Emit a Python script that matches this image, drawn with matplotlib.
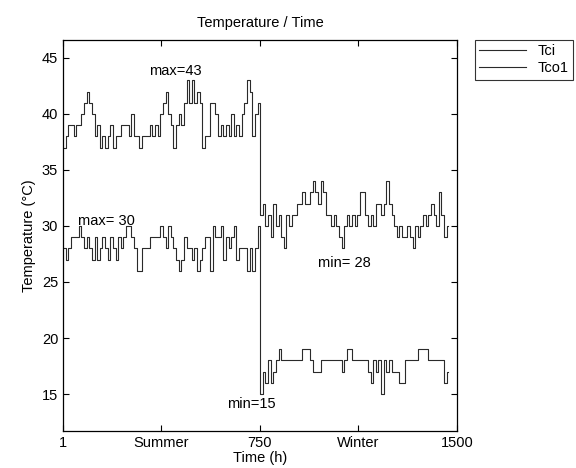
import numpy as np
import matplotlib
matplotlib.use("Agg")
import matplotlib.pyplot as plt

plt.rcParams['font.family'] = ['Liberation Sans', 'DejaVu Sans']

# --- datos (una muestra cada 10 h) ---
step_h = 10
start_summer = 1
start_winter = 751

tco1_summer = [37, 38, 39, 39, 38, 39, 39, 40, 41, 42,
               41, 40, 38, 39, 37, 38, 37, 38, 39, 37,
               38, 38, 39, 39, 39, 38, 40, 38, 38, 37,
               38, 38, 38, 39, 38, 39, 38, 40, 41, 42,
               40, 39, 37, 39, 40, 39, 41, 43, 41, 43,
               41, 42, 41, 37, 38, 38, 41, 41, 40, 38,
               39, 38, 39, 38, 40, 38, 39, 38, 40, 41,
               43, 42, 38, 40, 41]
tco1_winter = [31, 32, 30, 31, 29, 32, 30, 31, 29, 28,
               31, 30, 31, 31, 32, 32, 33, 32, 32, 33,
               34, 33, 32, 34, 33, 31, 31, 30, 31, 30,
               29, 28, 30, 31, 30, 31, 30, 31, 33, 33,
               31, 30, 31, 30, 32, 32, 31, 32, 34, 32,
               31, 30, 29, 30, 29, 29, 30, 29, 28, 30,
               29, 30, 31, 30, 31, 32, 31, 30, 33, 31,
               29, 30]

tci_summer = [28, 27, 28, 29, 29, 29, 30, 29, 28, 29,
              28, 27, 29, 27, 28, 29, 28, 27, 29, 28,
              27, 29, 28, 29, 30, 30, 29, 28, 26, 26,
              28, 28, 28, 29, 29, 29, 29, 30, 29, 28,
              30, 29, 28, 27, 26, 27, 29, 28, 28, 27,
              28, 26, 27, 28, 29, 29, 26, 30, 29, 29,
              30, 27, 29, 28, 29, 30, 27, 28, 28, 28,
              26, 28, 26, 28, 30]
tci_winter = [15, 17, 16, 18, 16, 17, 18, 19, 18, 18,
              18, 18, 18, 18, 18, 18, 19, 19, 19, 18,
              17, 17, 17, 18, 18, 18, 18, 18, 18, 18,
              18, 17, 18, 19, 19, 18, 18, 18, 18, 18,
              18, 17, 16, 18, 17, 18, 15, 18, 17, 18,
              17, 17, 17, 16, 16, 18, 18, 18, 18, 18,
              19, 19, 19, 19, 18, 18, 18, 18, 18, 18,
              16, 17]

x_ticks = [1, 375, 750, 1125, 1500]
x_ticklabels = ['1', 'Summer', '750', 'Winter', '1500']
y_ticks = [15, 20, 25, 30, 35, 40, 45]

notes = [('max=43', 427, 43.8), ('max= 30', 168, 30.4),
         ('min= 28', 1073, 26.7), ('min=15', 716, 14.1)]


def build(summer, winter):
    h_s = start_summer + step_h * np.arange(len(summer))
    h_w = start_winter + step_h * np.arange(len(winter))
    h = np.concatenate([h_s, h_w, [h_w[-1] + 4]])
    v = np.concatenate([summer, winter, [winter[-1]]])
    return h, v


fig = plt.figure(figsize=(5.76, 4.68), dpi=100)
ax = fig.add_axes([63 / 576, 1 - 431 / 468, (457 - 63) / 576, (431 - 40) / 468])

h, v = build(tci_summer, tci_winter)
ax.plot(h, v, drawstyle='steps-post', color='#2a2a2a', lw=0.8, label='Tci')
h, v = build(tco1_summer, tco1_winter)
ax.plot(h, v, drawstyle='steps-post', color='#2a2a2a', lw=0.8, label='Tco1')

for txt, x, y in notes:
    ax.text(x, y, txt, ha='center', va='center', fontsize=10.5)

ax.set_xlim(1, 1500)
ax.set_ylim(11.7, 46.6)
ax.set_xticks(x_ticks)
ax.set_xticklabels(x_ticklabels)
ax.set_yticks(y_ticks)
ax.tick_params(direction='in', top=True, right=True, length=4, labelsize=10.5, width=0.8)
for s in ax.spines.values():
    s.set_linewidth(0.9)

ax.set_title('Temperature / Time', fontsize=10.5, pad=9)
ax.set_xlabel('Time (h)', fontsize=10.5, labelpad=1)
ax.set_ylabel('Temperature (°C)', fontsize=10.5)

leg = ax.legend(loc='upper left', bbox_to_anchor=(475 / 576, 1 - 40 / 468),
                bbox_transform=fig.transFigure, fancybox=False, frameon=True,
                fontsize=10.5, handlelength=3.2, borderaxespad=0, borderpad=0.3,
                labelspacing=0.2)
leg.get_frame().set_edgecolor('black')
leg.get_frame().set_linewidth(0.8)

fig.savefig('out.png', dpi=100)
